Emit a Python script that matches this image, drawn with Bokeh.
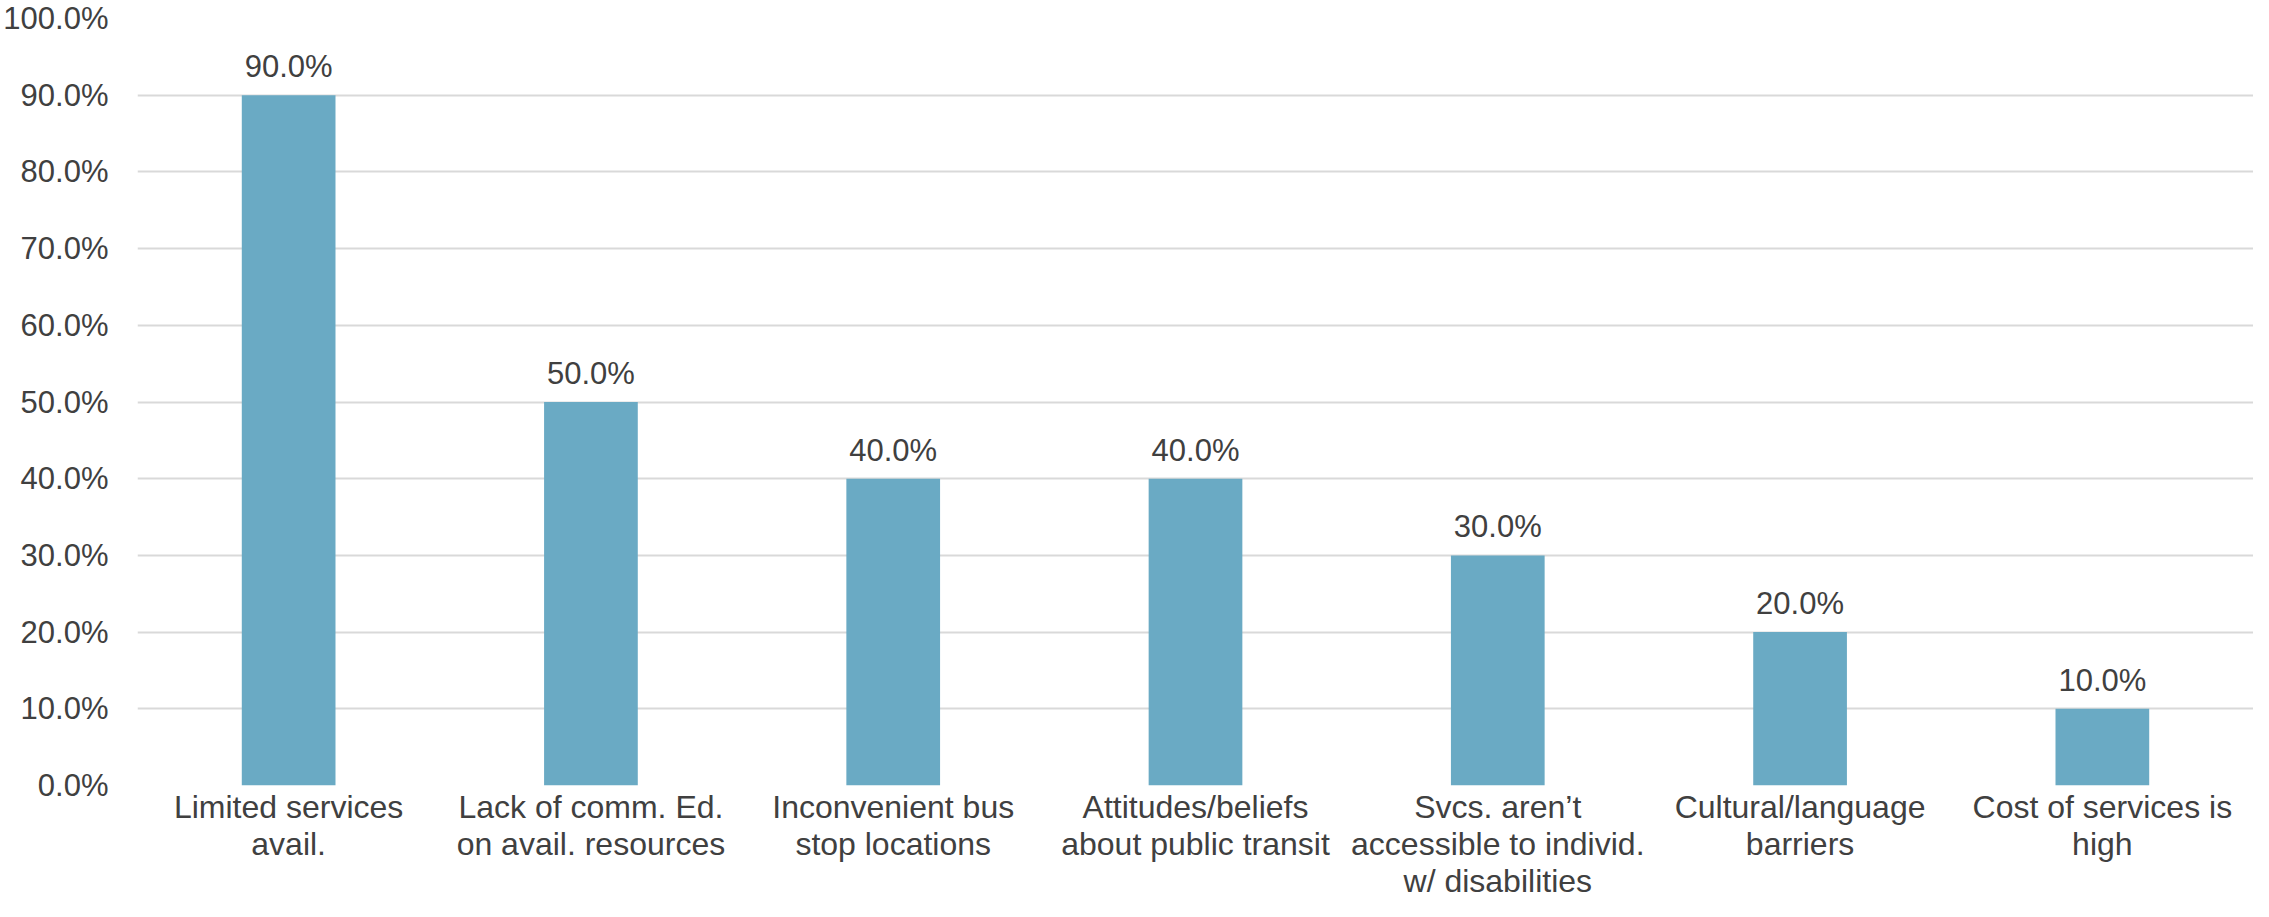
from bokeh.plotting import figure
from bokeh.models import ColumnDataSource, LabelSet, NumeralTickFormatter, FactorRange, Range1d
from bokeh.core.properties import value
from bokeh.embed import file_html
from bokeh.resources import INLINE

categories = [
    "Limited services\navail.",
    "Lack of comm. Ed.\non avail. resources",
    "Inconvenient bus\nstop locations",
    "Attitudes/beliefs\nabout public transit",
    "Svcs. aren\u2019t\naccessible to individ.\nw/ disabilities",
    "Cultural/language\nbarriers",
    "Cost of services is\nhigh",
]
values = [0.90, 0.50, 0.40, 0.40, 0.30, 0.20, 0.10]
value_labels = ["90.0%", "50.0%", "40.0%", "40.0%", "30.0%", "20.0%", "10.0%"]
y_ticks = [0.0, 0.1, 0.2, 0.3, 0.4, 0.5, 0.6, 0.7, 0.8, 0.9, 1.0]

FONT = "Liberation Sans"
TEXT = "#404040"
BAR = "#6AAAC4"
GRID = "#D9D9D9"

source = ColumnDataSource(dict(cat=categories, val=values, lab=value_labels))

p = figure(
    x_range=FactorRange(*categories),
    y_range=Range1d(0, 1.0),
    width=2253, height=901,
    output_backend="svg", toolbar_location=None,
    min_border_left=131, min_border_right=0,
    min_border_top=18, min_border_bottom=100,
)
p.outline_line_color = None
p.background_fill_color = "white"
p.border_fill_color = "white"
p.x_range.range_padding = 0
p.x_range.factor_padding = 0

p.vbar(x="cat", top="val", width=0.31, source=source,
       fill_color=BAR, line_color=None)

p.add_layout(LabelSet(x="cat", y="val", text="lab", source=source, text_align="center",
                      text_baseline="alphabetic", y_offset=18, text_font=value(FONT),
                      text_font_size="31px", text_color=TEXT))

p.xgrid.grid_line_color = None
p.ygrid.grid_line_color = GRID
p.ygrid.grid_line_width = 2
p.ygrid.ticker = y_ticks

p.xaxis.axis_line_color = None
p.xaxis.major_tick_line_color = None
p.xaxis.minor_tick_line_color = None
p.xaxis.major_tick_out = 0
p.xaxis.major_tick_in = 0
p.xaxis.minor_tick_out = 0
p.xaxis.minor_tick_in = 0
p.xaxis.axis_label_standoff = 0
p.xaxis.major_label_text_font = FONT
p.xaxis.major_label_text_font_size = "32px"
p.xaxis.major_label_text_color = TEXT
p.xaxis.major_label_text_line_height = 1.03
p.xaxis.major_label_standoff = 3

p.yaxis.ticker = y_ticks
p.yaxis.formatter = NumeralTickFormatter(format="0.0%")
p.yaxis.axis_line_color = None
p.yaxis.major_tick_line_color = None
p.yaxis.minor_tick_line_color = None
p.yaxis.major_tick_out = 0
p.yaxis.major_tick_in = 0
p.yaxis.minor_tick_out = 0
p.yaxis.minor_tick_in = 0
p.yaxis.major_label_text_font = FONT
p.yaxis.major_label_text_font_size = "31px"
p.yaxis.major_label_text_color = TEXT
p.yaxis.major_label_standoff = 29

open("out.html", "w").write(file_html(p, INLINE))
